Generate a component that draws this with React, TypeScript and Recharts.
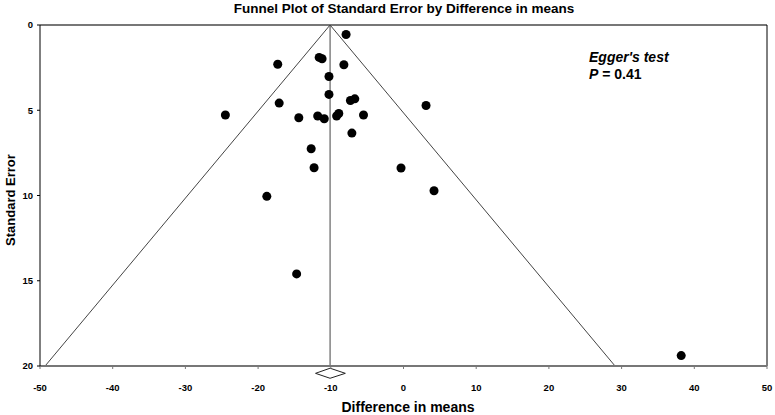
import {ReferenceLine, Scatter, ScatterChart, XAxis, YAxis, ZAxis} from 'recharts'

// study estimates
const diffInMeans = [-7.9, -11.6, -11.2, -17.3, -8.2, -10.25, -10.25, -17.1, -7.3, -6.7, 3.1, -24.5, -14.4, -11.8, -10.9, -9.2, -8.9, -5.5, -7.1, -12.7, -12.3, -0.34, 4.2, -18.8, -14.7, 38.2]
const standardErr = [0.56, 1.9, 1.98, 2.3, 2.33, 3.02, 4.07, 4.58, 4.43, 4.33, 4.72, 5.28, 5.44, 5.34, 5.5, 5.34, 5.19, 5.28, 6.34, 7.26, 8.37, 8.39, 9.72, 10.05, 14.6, 19.39]

const xTicks = [-50, -40, -30, -20, -10, 0, 10, 20, 30, 40, 50]
const yTicks = [0, 5, 10, 15, 20]

// funnel: apex and the two 95% limits at the bottom
const pooled = -10.1
const funnelLeft = -49.3
const funnelRight = 29.1
const seMax = 20

// pooled estimate diamond under the axis
const diamondX = [-12.1, -10.1, -8.0]
const diamondY = [20.13, 20.43, 20.72]

const points = diffInMeans.map((x, i) => ({x, y: standardErr[i]}))

const tickStyle = {fontFamily: 'Liberation Sans, Arial, sans-serif', fontSize: 9.5, fontWeight: 'bold', fill: '#000'}
const font = 'Liberation Sans, Arial, sans-serif'

const App = () => {
    return (
        <div style={{position: 'absolute', left: 0, top: 0, width: 775, height: 415, background: '#fff'}}>
            <div style={{position: 'absolute', left: 0, width: 808, top: 1, textAlign: 'center', fontFamily: font, fontWeight: 'bold', fontSize: 13.5}}>
                Funnel Plot of Standard Error by Difference in means
            </div>
            <div style={{position: 'absolute', left: 10, top: 200, transform: 'translate(-50%, -50%) rotate(-90deg)', whiteSpace: 'nowrap', fontFamily: font, fontWeight: 'bold', fontSize: 13}}>
                Standard Error
            </div>
            <div style={{position: 'absolute', left: 408, top: 407, transform: 'translate(-50%, -50%)', whiteSpace: 'nowrap', fontFamily: font, fontWeight: 'bold', fontSize: 14}}>
                Difference in means
            </div>
            <div style={{position: 'absolute', left: 589, top: 49, fontFamily: font, fontWeight: 'bold', fontStyle: 'italic', fontSize: 14, lineHeight: '17px'}}>
                Egger's test
                <br />
                <span>P</span><span style={{fontStyle: 'normal'}}> = 0.41</span>
            </div>
            <ScatterChart width={775} height={415} margin={{top: 25, right: 8, bottom: 19, left: 0}}>
                <XAxis
                    type="number"
                    dataKey="x"
                    domain={[-50, 50]}
                    ticks={xTicks}
                    interval={0}
                    height={30}
                    axisLine={{stroke: '#777', strokeWidth: 2}}
                    tickLine={{stroke: '#777'}}
                    tickSize={3}
                    tickMargin={15}
                    tick={tickStyle}
                    allowDataOverflow
                />
                <YAxis
                    type="number"
                    dataKey="y"
                    domain={[0, 20]}
                    ticks={yTicks}
                    reversed
                    width={40}
                    axisLine={{stroke: '#000'}}
                    tickLine={{stroke: '#000'}}
                    tickSize={3}
                    tickMargin={4}
                    tick={tickStyle}
                    allowDataOverflow
                />
                <ZAxis range={[46, 46]} />
                <ReferenceLine y={0} stroke="#777" strokeWidth={2} />
                <ReferenceLine x={50} stroke="#000" />
                <ReferenceLine segment={[{x: pooled, y: 0}, {x: pooled, y: seMax}]} stroke="#444" />
                <ReferenceLine segment={[{x: pooled, y: 0}, {x: funnelLeft, y: seMax}]} stroke="#444" />
                <ReferenceLine segment={[{x: pooled, y: 0}, {x: funnelRight, y: seMax}]} stroke="#444" />
                <ReferenceLine ifOverflow="visible" segment={[{x: diamondX[0], y: diamondY[1]}, {x: diamondX[1], y: diamondY[0]}]} stroke="#222" />
                <ReferenceLine ifOverflow="visible" segment={[{x: diamondX[1], y: diamondY[0]}, {x: diamondX[2], y: diamondY[1]}]} stroke="#222" />
                <ReferenceLine ifOverflow="visible" segment={[{x: diamondX[2], y: diamondY[1]}, {x: diamondX[1], y: diamondY[2]}]} stroke="#222" />
                <ReferenceLine ifOverflow="visible" segment={[{x: diamondX[1], y: diamondY[2]}, {x: diamondX[0], y: diamondY[1]}]} stroke="#222" />
                <Scatter data={points} fill="#000" isAnimationActive={false} />
            </ScatterChart>
        </div>
    )
}

export default App
